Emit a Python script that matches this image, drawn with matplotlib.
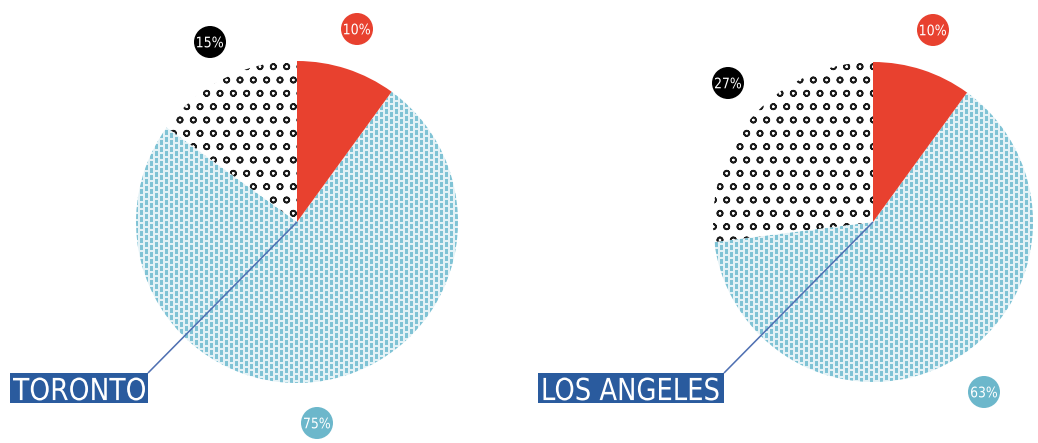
import numpy as np
import matplotlib
matplotlib.use("Agg")
import matplotlib.pyplot as plt
from matplotlib.patches import Rectangle, Circle, PathPatch
from matplotlib.textpath import TextPath
from matplotlib.font_manager import FontProperties
from matplotlib.transforms import Affine2D

# shares per city: red, blue (dashed), dotted
cities = ["TORONTO", "LOS ANGELES"]
toronto_shares = [10, 75, 15]
la_shares = [10, 63, 27]
share_labels = [["10%", "75%", "15%"], ["10%", "63%", "27%"]]

RED = "#e8412f"
BLUE = "#6cb7cb"
NAVY = "#2a5b9e"
LINE = "#4f70b2"

W, H, DPI = 1038, 443, 80
plt.rcParams["hatch.linewidth"] = 1.5
FP = FontProperties(family="DejaVu Sans")

fig = plt.figure(figsize=(W / DPI, H / DPI), dpi=DPI)
ax = fig.add_axes([0, 0, 1, 1])
ax.set_xlim(0, W)
ax.set_ylim(H, 0)
ax.set_aspect("equal")
ax.axis("off")


def narrow_text(x, y, s, height, width, color, zorder=5):
    # text as an outline, squeezed to a given box (pixel units, y down)
    tp = TextPath((0, 0), s, size=1, prop=FP)
    ext = tp.get_extents()
    k = height / ext.height
    kx = width / ext.width
    tr = (Affine2D().translate(-ext.x0 - ext.width / 2, -ext.y0 - ext.height / 2)
          .scale(kx, -k).translate(x, y))
    ax.add_patch(PathPatch(tr.transform_path(tp), facecolor=color,
                           edgecolor="none", zorder=zorder))


# dashed light-blue texture used to fill the big slice
yy, xx = np.mgrid[0:H, 0:W]
shift = (xx // 5 % 2) * 3
dash = ((xx % 5) < 3) & (((yy + shift) % 7) < 5)
tex = np.ones((H, W, 3))
tex[:] = np.array([228, 242, 246]) / 255
tex[dash] = np.array([128, 195, 213]) / 255

# layout: pie centre, radius, badge spots (red, blue, black), city box, text width
layout = [
    dict(c=(297, 222), r=161, spots=[(357, 29), (317, 423), (210, 42)],
         box=(10, 373, 138, 30), tw=132),
    dict(c=(873, 222), r=160, spots=[(933, 30), (984, 392), (728, 83)],
         box=(538, 373, 186, 30), tw=175),
]

for name, shares, labels, lay in zip(cities, [toronto_shares, la_shares], share_labels, layout):
    cx, cy = lay["c"]
    wedges, _ = ax.pie(shares, center=(cx, -cy), radius=lay["r"], startangle=90,
                       counterclock=False, colors=[RED, "none", "white"],
                       wedgeprops=dict(linewidth=0))
    # pie draws with y up; flip into the pixel frame
    for w in wedges:
        w.set_center((cx, cy))
        w.theta1, w.theta2 = -w.theta2, -w.theta1
        w._recompute_path()
    wedges[2].set_hatch("o")
    wedges[2].set_edgecolor("#1a1a1a")
    im = ax.imshow(tex, extent=[0, W, H, 0], interpolation="nearest", zorder=0.5)
    im.set_clip_path(wedges[1])

    # leader line and city tag
    bx, by, bw, bh = lay["box"]
    ax.plot([cx, bx + bw], [cy, by], color=LINE, lw=1.4, zorder=3, solid_capstyle="butt")
    ax.add_patch(Rectangle((bx, by), bw, bh, facecolor=NAVY, edgecolor="none", zorder=4))
    narrow_text(bx + bw / 2, by + bh / 2 + 1, name, 23, lay["tw"], "white")

    # percentage badges
    for (sx, sy), lab, col in zip(lay["spots"], labels, [RED, BLUE, "black"]):
        ax.add_patch(Circle((sx, sy), 16, facecolor=col, edgecolor="none", zorder=4))
        narrow_text(sx, sy, lab, 11, 26, "white")

ax.set_xlim(0, W)
ax.set_ylim(H, 0)
fig.savefig("out.png", dpi=DPI)
